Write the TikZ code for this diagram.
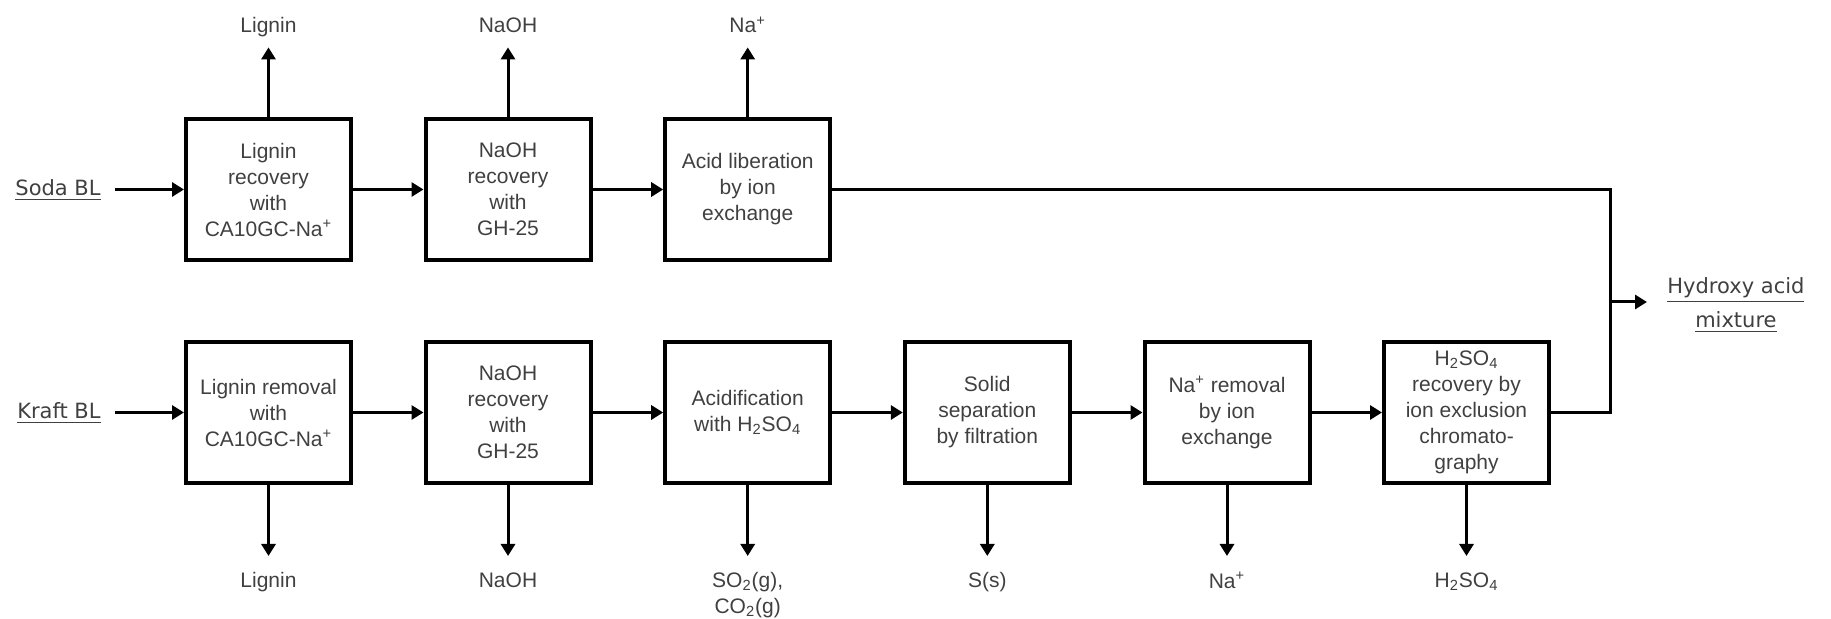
\documentclass[tikz,border=0pt]{standalone}
\usepackage{fontspec}
\setmainfont{Liberation Sans}
\newfontfamily\labfont{DejaVu Sans}
\usetikzlibrary{arrows.meta}
\begin{document}
\begin{tikzpicture}[x=0.5pt,y=-0.5pt,
  box/.style={draw, line width=2pt, minimum width=82.5pt, minimum height=70.5pt, inner sep=1pt, align=center, font=\fontsize{10.5}{13}\selectfont, text=black!75},
  arr/.style={line width=1.5pt, -{Triangle[width=7pt,length=6pt]}},
  ln/.style={line width=1.5pt},
  toplab/.style={anchor=base, inner sep=0pt, text depth=2.5pt, font=\fontsize{10.5}{13}\selectfont, text=black!75},
  botlab/.style={anchor=north, inner sep=0pt, align=center, font=\fontsize{10.5}{13}\selectfont, text=black!75},
  inlab/.style={inner sep=0pt, font=\labfont\fontsize{10.5}{13}\selectfont, text=black!75}]
\useasboundingbox (0,0) rectangle (1831,619);
% top row
\node[box] (a1) at (268.5,189.5) {Lignin\\recovery\\with\\CA10GC-Na\textsuperscript{+}};
\node[box] (a2) at (508,189.5) {NaOH\\recovery\\with\\GH-25};
\node[box] (a3) at (747.7,189.5) {Acid liberation\\by ion\\exchange};
% bottom row
\node[box] (b1) at (268.5,412.5) {Lignin removal\\with\\CA10GC-Na\textsuperscript{+}};
\node[box] (b2) at (508,412.5) {NaOH\\recovery\\with\\GH-25};
\node[box] (b3) at (747.7,412.5) {Acidification\\with H\textsubscript{2}SO\textsubscript{4}};
\node[box] (b4) at (987.3,412.5) {Solid\\separation\\by filtration};
\node[box] (b5) at (1227,412.5) {Na\textsuperscript{+} removal\\by ion\\exchange};
\node[box] (b6) at (1466.5,412.5) {H\textsubscript{2}SO\textsubscript{4}\\recovery by\\ion exclusion\\chromato-\\graphy};
% inputs
\node[inlab, anchor=base east] (soda) at (101,196) {\underline{Soda BL}};
\node[inlab, anchor=base east] (kraft) at (101,419) {\underline{Kraft BL}};
\coordinate (sin) at (115,189.5);
\coordinate (kin) at (115,412.5);
\draw[arr] (sin) -- (a1.west);
\draw[arr] (kin) -- (b1.west);
% chain arrows
\draw[arr] (a1.east) -- (a2.west);
\draw[arr] (a2.east) -- (a3.west);
\draw[arr] (b1.east) -- (b2.west);
\draw[arr] (b2.east) -- (b3.west);
\draw[arr] (b3.east) -- (b4.west);
\draw[arr] (b4.east) -- (b5.west);
\draw[arr] (b5.east) -- (b6.west);
% merge
\coordinate (j1) at (1610,189.5);
\coordinate (j2) at (1610,412.5);
\coordinate (jm) at (1610,302);
\coordinate (hout) at (1647,302);
\draw[ln] (a3.east) -- (j1) -- (j2) -- (b6.east);
\draw[arr] (jm) -- (hout);
\node[inlab, anchor=west, align=center, font=\labfont\fontsize{10.5}{17}\selectfont] (hyd) at (1667,305) {\underline{Hydroxy acid}\\\underline{mixture}};
% top outputs
\node[toplab] (t1) at (268.5,33) {Lignin};
\node[toplab] (t2) at (508,33) {NaOH};
\node[toplab] (t3) at (747.7,33) {Na\textsuperscript{+}};
\draw[arr, shorten >=4.5pt] (a1.north) -- (t1.south);
\draw[arr, shorten >=4.5pt] (a2.north) -- (t2.south);
\draw[arr, shorten >=4.5pt] (a3.north) -- (t3.south);
% bottom outputs
\node[botlab] (d1) at (268.5,572) {Lignin};
\node[botlab] (d2) at (508,572) {NaOH};
\node[botlab] (d3) at (747.7,572) {SO\textsubscript{2}(g),\\CO\textsubscript{2}(g)};
\node[botlab] (d4) at (987.3,572) {S(s)};
\node[botlab] (d5) at (1227,572) {Na\textsuperscript{+}};
\node[botlab] (d6) at (1466.5,572) {H\textsubscript{2}SO\textsubscript{4}};
\draw[arr, shorten >=8pt] (b1.south) -- (d1.north);
\draw[arr, shorten >=8pt] (b2.south) -- (d2.north);
\draw[arr, shorten >=8pt] (b3.south) -- (d3.north);
\draw[arr, shorten >=8pt] (b4.south) -- (d4.north);
\draw[arr, shorten >=8pt] (b5.south) -- (d5.north);
\draw[arr, shorten >=8pt] (b6.south) -- (d6.north);
\end{tikzpicture}
\end{document}
